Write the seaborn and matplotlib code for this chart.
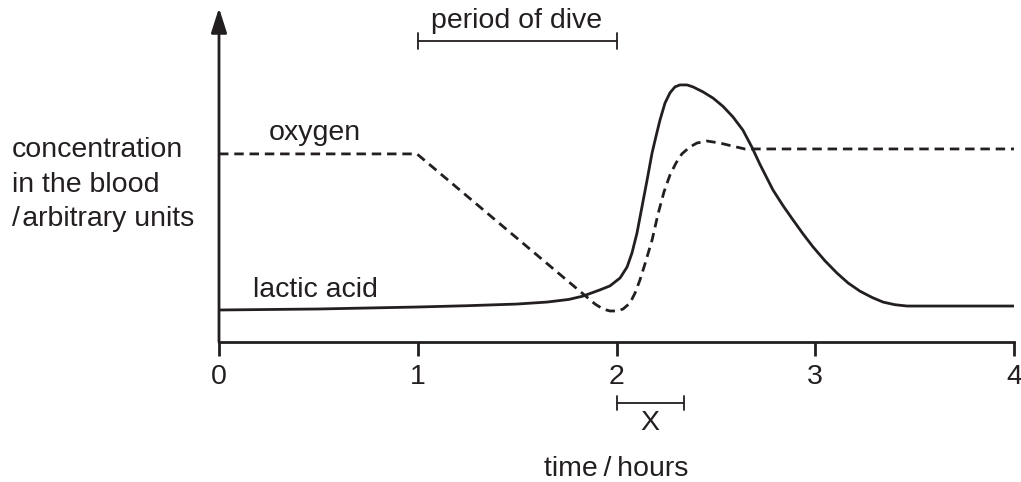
import matplotlib
matplotlib.use("Agg")
import matplotlib.pyplot as plt
import seaborn as sns
import pandas as pd

# Values (time in hours, concentration in arbitrary units)
oxygen_time = [0.000, 0.996, 1.851, 1.892, 1.932, 1.967, 2.003, 2.033, 2.068,
               2.093, 2.118, 2.143, 2.179, 2.209, 2.239, 2.269, 2.299, 2.329,
               2.369, 2.405, 2.455, 2.520, 2.581, 2.646, 4.000]
oxygen_conc = [5.70, 5.70, 1.36, 1.15, 1.00, 0.94, 0.94, 1.00, 1.18,
               1.48, 1.88, 2.36, 3.09, 3.88, 4.55, 5.06, 5.42, 5.70,
               5.91, 6.03, 6.09, 6.03, 5.94, 5.85, 5.85]

lactic_time = [0.000, 0.498, 0.996, 1.250, 1.499, 1.650, 1.760, 1.831, 1.917,
               1.967, 2.018, 2.053, 2.078, 2.103, 2.128, 2.153, 2.179, 2.199,
               2.219, 2.244, 2.269, 2.294, 2.319, 2.355, 2.385, 2.435, 2.486,
               2.536, 2.586, 2.636, 2.680, 2.722, 2.787, 2.838, 2.888, 2.938,
               2.989, 3.049, 3.109, 3.165, 3.225, 3.286, 3.341, 3.401, 3.462,
               3.577, 4.000]
lactic_conc = [0.97, 1.00, 1.06, 1.10, 1.15, 1.21, 1.29, 1.39, 1.58,
               1.70, 1.94, 2.27, 2.70, 3.30, 4.09, 4.88, 5.73, 6.24,
               6.73, 7.24, 7.55, 7.73, 7.79, 7.79, 7.73, 7.58, 7.39,
               7.14, 6.82, 6.42, 5.92, 5.38, 4.61, 4.13, 3.70, 3.28,
               2.88, 2.46, 2.09, 1.79, 1.54, 1.35, 1.21, 1.13, 1.09,
               1.09, 1.09]

x_ticks = [0, 1, 2, 3, 4]
dive_period = [1.0, 2.0]
x_interval = [2.0, 2.34]

ink = "#231f20"

sns.set_style("white")
plt.rcParams["font.family"] = ["Liberation Sans", "DejaVu Sans"]

fig = plt.figure(figsize=(10.21, 4.82), dpi=100)
ax = fig.add_axes([219 / 1021, 140 / 482, 795 / 1021, 334 / 482])

oxy = pd.DataFrame({"time": oxygen_time, "conc": oxygen_conc})
lac = pd.DataFrame({"time": lactic_time, "conc": lactic_conc})
sns.lineplot(data=oxy, x="time", y="conc", ax=ax, color=ink, lw=2.0, sort=False)
ax.lines[-1].set_dashes((3.4, 2.1))
ax.lines[-1].set_solid_joinstyle("round")
sns.lineplot(data=lac, x="time", y="conc", ax=ax, color=ink, lw=2.0, sort=False)
ax.lines[-1].set_solid_joinstyle("round")

ax.set_xlim(0, 4)
ax.set_ylim(0, 334 / 33)
for s in ["top", "right", "left"]:
    ax.spines[s].set_visible(False)
ax.spines["bottom"].set_color(ink)
ax.spines["bottom"].set_linewidth(2.0)
ax.set_yticks([])
ax.set_xticks(x_ticks)
ax.set_xticklabels([str(t) for t in x_ticks])
ax.tick_params(axis="x", direction="out", length=10, width=2.0, color=ink,
               labelsize=20.5, labelcolor=ink, pad=6, bottom=True)
ax.set_xlabel("")
ax.set_ylabel("")

# y axis with arrow head
ax.annotate("", xy=(0, 334 / 33), xytext=(0, 0), xycoords="data",
            arrowprops=dict(arrowstyle="-|>,head_length=0.75,head_width=0.24",
                            mutation_scale=20, lw=2.0, color=ink,
                            shrinkA=0, shrinkB=0), annotation_clip=False)

# brackets
def bracket(x0, x1, y, h):
    ax.plot([x0, x1], [y, y], color=ink, lw=1.3, clip_on=False)
    for xx in (x0, x1):
        ax.plot([xx, xx], [y - h, y + h], color=ink, lw=1.3, clip_on=False)

bracket(dive_period[0], dive_period[1], (342 - 41) / 33, 0.24)
bracket(x_interval[0], x_interval[1], (342 - 403) / 33, 0.21)

def ftext(px, py, s, ha="left"):
    fig.text(px / 1021, 1 - py / 482, s, ha=ha, va="baseline", fontsize=20.5,
             color=ink)

ftext(12, 157, "concentration")
ftext(12, 192, "in the blood")
ftext(12, 226, "/\u200aarbitrary units")
ftext(315, 140, "oxygen", ha="center")
ftext(253, 297, "lactic acid")
ftext(517, 28, "period of dive", ha="center")
ftext(650, 430, "X", ha="center")
ftext(616, 476, "time\u2009/\u2009hours", ha="center")

fig.savefig("out.png", dpi=100)
